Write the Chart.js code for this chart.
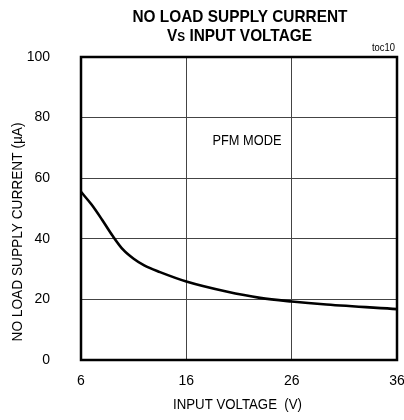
<!DOCTYPE html>
<html><head><meta charset="utf-8">
<script src="https://cdn.jsdelivr.net/npm/chart.js@4.4.0/dist/chart.umd.min.js"></script>
<style>html,body{margin:0;padding:0;background:#fff;}#wrap{width:404px;height:420px;}</style>
</head><body><div id="wrap"><canvas id="c" width="404" height="420"></canvas></div>
<script>
const voltage = [6, 7, 8, 9, 10, 11, 12, 13.5, 16, 19.8, 23, 26, 29.3, 36];
const current = [55.5, 51.3, 46.3, 41.0, 36.4, 33.4, 31.2, 29.0, 25.9, 22.6, 20.5, 19.3, 18.3, 16.8];
const xTicks = [6, 16, 26, 36];
const yTicks = [0, 20, 40, 60, 80, 100];
const titleLine1 = "NO LOAD SUPPLY CURRENT";
const titleLine2 = ["V", "S", " INPUT VOLTAGE"];
const xTitle = "INPUT VOLTAGE  (V)";
const yTitle = "NO LOAD SUPPLY CURRENT (µA)";
const note = "PFM MODE";
const tag = "toc10";

const FF = '"Liberation Sans", Arial, sans-serif';

// draw text pieces centred at (x,y), squeezed horizontally to a given width
function fitText(ctx, pieces, x, y, width) {
  let total = 0;
  pieces.forEach(p => { ctx.font = p.font; total += ctx.measureText(p.t).width; });
  const k = width / total;
  ctx.save();
  ctx.translate(x - width / 2, y);
  ctx.scale(k, 1);
  ctx.textAlign = 'left'; ctx.textBaseline = 'alphabetic';
  let cx = 0;
  pieces.forEach(p => { ctx.font = p.font; ctx.fillText(p.t, cx, 0); cx += ctx.measureText(p.t).width; });
  ctx.restore();
}

const deco = {
  id: 'deco',
  afterDraw(chart) {
    const ctx = chart.ctx, a = chart.chartArea;
    ctx.save();
    ctx.strokeStyle = '#000'; ctx.lineWidth = 2.5;
    ctx.strokeRect(a.left, a.top, a.right - a.left, a.bottom - a.top);
    ctx.fillStyle = '#000';
    const TB = 'bold 17px ' + FF;
    fitText(ctx, [{t: titleLine1, font: TB}], 240, 22, 215);
    fitText(ctx, [{t: titleLine2[0], font: TB}, {t: titleLine2[1], font: 'bold 13px ' + FF}, {t: titleLine2[2], font: TB}], 239.5, 41, 145);
    fitText(ctx, [{t: xTitle, font: '15px ' + FF}], 237.5, 409, 129);
    ctx.save();
    ctx.translate(22, 232); ctx.rotate(-Math.PI / 2);
    fitText(ctx, [{t: yTitle, font: '15px ' + FF}], 0, 0, 219);
    ctx.restore();
    fitText(ctx, [{t: note, font: '15px ' + FF}], 247, 144.5, 69);
    fitText(ctx, [{t: tag, font: '10.5px ' + FF}], 383.5, 51, 23);
    ctx.restore();
  }
};

new Chart(document.getElementById('c'), {
  type: 'scatter',
  data: { datasets: [{
    data: voltage.map((v, i) => ({x: v, y: current[i]})),
    showLine: true, borderColor: '#000', borderWidth: 2.6,
    pointRadius: 0, cubicInterpolationMode: 'monotone', fill: false
  }]},
  options: {
    responsive: false, animation: false,
    layout: { padding: { top: 57, right: 7, left: 0, bottom: 0 } },
    plugins: { legend: { display: false }, tooltip: { enabled: false }, title: { display: false } },
    scales: {
      x: {
        type: 'linear', min: 6, max: 36,
        afterBuildTicks: s => { s.ticks = xTicks.map(v => ({value: v})); },
        afterFit: s => { s.height = 60; s.paddingLeft = 0; s.paddingRight = 0; },
        grid: { color: '#444', lineWidth: 1, drawTicks: false },
        border: { display: false },
        ticks: { color: '#000', padding: 13, font: { family: FF, size: 14 }, maxRotation: 0 }
      },
      y: {
        type: 'linear', min: 0, max: 100,
        afterBuildTicks: s => { s.ticks = yTicks.map(v => ({value: v})); },
        afterFit: s => { s.width = 81; s.paddingTop = 0; s.paddingBottom = 0; },
        grid: { color: '#444', lineWidth: 1, drawTicks: false },
        border: { display: false },
        ticks: { color: '#000', padding: 31, font: { family: FF, size: 14 } }
      }
    }
  },
  plugins: [deco]
});
</script></body></html>
